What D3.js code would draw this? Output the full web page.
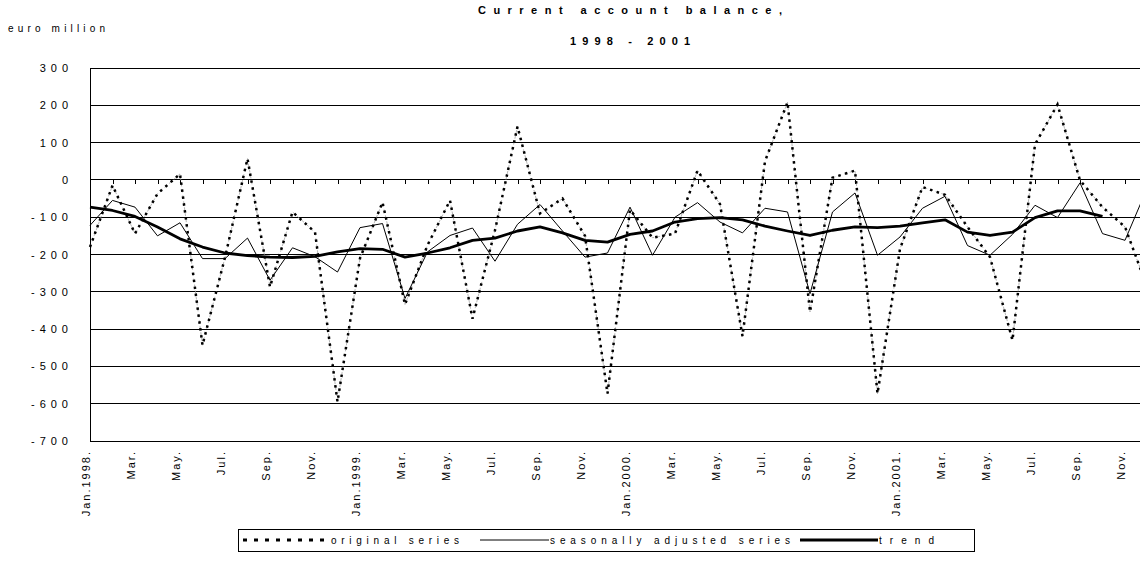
<!DOCTYPE html>
<html>
<head>
<meta charset="utf-8">
<script src="https://cdn.jsdelivr.net/npm/d3@7/dist/d3.min.js"></script>
<style>
  body { margin: 0; background: #fff; }
  svg { display: block; font-family: "Liberation Sans", Arial, sans-serif; }
</style>
</head>
<body>
<svg id="chart" width="1140" height="567"></svg>
<script>
// months Jan 1998 .. Dec 2001
const categories = [
  '1998-01','1998-02','1998-03','1998-04','1998-05','1998-06','1998-07','1998-08','1998-09','1998-10','1998-11','1998-12',
  '1999-01','1999-02','1999-03','1999-04','1999-05','1999-06','1999-07','1999-08','1999-09','1999-10','1999-11','1999-12',
  '2000-01','2000-02','2000-03','2000-04','2000-05','2000-06','2000-07','2000-08','2000-09','2000-10','2000-11','2000-12',
  '2001-01','2001-02','2001-03','2001-04','2001-05','2001-06','2001-07','2001-08','2001-09','2001-10','2001-11','2001-12'
];

// one label every second month
const tickLabels = [
  'Jan.1998.','Mar.','May.','Jul.','Sep.','Nov.',
  'Jan.1999.','Mar.','May.','Jul.','Sep.','Nov.',
  'Jan.2000.','Mar.','May.','Jul.','Sep.','Nov.',
  'Jan.2001.','Mar.','May.','Jul.','Sep.','Nov.'
];

const original = [
  -180, -15, -144, -37, 16, -443, -208, 57, -287, -86, -140, -595,
  -210, -60, -334, -175, -55, -372, -135, 143, -90, -50, -150, -573,
  -80, -155, -144, 25, -65, -419, 50, 208, -354, 6, 25, -573,
  -185, -19, -40, -126, -207, -430, 95, 202, -1, -73, -126, -290
];

const seasonal = [
  -122, -55, -73, -150, -115, -211, -211, -156, -269, -182, -206, -247,
  -128, -117, -318, -193, -149, -129, -218, -119, -66, -137, -207, -196,
  -73, -202, -100, -61, -113, -142, -76, -86, -305, -86, -35, -202,
  -153, -76, -44, -176, -202, -146, -68, -101, -8, -144, -162, -20
];

// trend stops at Oct 2001
const trend = [
  -73, -82, -98, -126, -158, -180, -196, -203, -207, -208, -205, -193,
  -184, -186, -207, -196, -182, -162, -156, -137, -126, -142, -162, -167,
  -146, -137, -113, -104, -101, -107, -124, -137, -149, -135, -126, -128,
  -124, -115, -107, -140, -149, -140, -101, -83, -83, -98
];

const yTicks = [300, 200, 100, 0, -100, -200, -300, -400, -500, -600, -700];

const svg = d3.select('#chart');

const plotLeft = 90, plotRight = 1147.5, plotTop = 68, plotBottom = 441;

const x = d3.scalePoint().domain(categories).range([plotLeft, plotRight]);
const y = d3.scaleLinear().domain([-700, 300]).range([plotBottom, plotTop]);

// gridlines
svg.append('g')
  .selectAll('line')
  .data(yTicks)
  .enter()
  .append('line')
  .attr('x1', plotLeft)
  .attr('x2', plotRight)
  .attr('y1', (d) => y(d))
  .attr('y2', (d) => y(d))
  .attr('stroke', '#000')
  .attr('stroke-width', 1)
  .attr('shape-rendering', 'crispEdges');

// left axis line
svg.append('line')
  .attr('x1', plotLeft).attr('x2', plotLeft)
  .attr('y1', plotTop).attr('y2', plotBottom)
  .attr('stroke', '#000')
  .attr('shape-rendering', 'crispEdges');

// y tick labels (spread out like the original)
svg.append('g')
  .selectAll('text')
  .data(yTicks)
  .enter()
  .append('text')
  .attr('x', 73)
  .attr('y', (d) => y(d) + 4)
  .attr('text-anchor', 'end')
  .attr('font-size', 11)
  .attr('letter-spacing', 5)
  .text((d) => (d < 0 ? '-' + Math.abs(d) : String(d)));

// category axis crossing at zero
const xAxis = d3.axisBottom(x).tickSize(4).tickFormat('');
const xg = svg.append('g')
  .attr('transform', `translate(0,${y(0)})`)
  .call(xAxis);
xg.select('.domain').remove();
xg.selectAll('.tick line').attr('stroke', '#000').attr('shape-rendering', 'crispEdges');
svg.append('line')
  .attr('x1', plotLeft).attr('x2', plotRight)
  .attr('y1', y(0)).attr('y2', y(0))
  .attr('stroke', '#000')
  .attr('shape-rendering', 'crispEdges');

// month labels, rotated, hanging from the bottom of the plot
svg.append('g')
  .selectAll('text')
  .data(tickLabels)
  .enter()
  .append('text')
  .attr('transform', (d, i) => `translate(${x(categories[i * 2])},450) rotate(-90)`)
  .attr('text-anchor', 'end')
  .attr('font-size', 11)
  .attr('letter-spacing', 2)
  .text((d) => d);

// lines
const line = (arr) =>
  d3.line()
    .x((d, i) => x(categories[i]))
    .y((d) => y(d))(arr);

svg.append('path')
  .attr('d', line(original))
  .attr('fill', 'none')
  .attr('stroke', '#9a9a9a')
  .attr('stroke-width', 0.7)
  .attr('stroke-dasharray', '3,3');

svg.append('path')
  .attr('d', line(original))
  .attr('fill', 'none')
  .attr('stroke', '#000')
  .attr('stroke-width', 2.5)
  .attr('stroke-dasharray', '2.5,4.5');

svg.append('path')
  .attr('d', line(seasonal))
  .attr('fill', 'none')
  .attr('stroke', '#000')
  .attr('stroke-width', 1);

svg.append('path')
  .attr('d', line(trend))
  .attr('fill', 'none')
  .attr('stroke', '#000')
  .attr('stroke-width', 2.8)
  .attr('stroke-linejoin', 'round');

// titles
svg.append('text')
  .attr('x', 8).attr('y', 32)
  .attr('font-size', 10)
  .attr('textLength', 97)
  .attr('lengthAdjust', 'spacing')
  .text('euro million');

svg.append('text')
  .attr('x', 478).attr('y', 14)
  .attr('font-size', 11)
  .attr('font-weight', 'bold')
  .attr('textLength', 304)
  .attr('lengthAdjust', 'spacing')
  .text('Current account balance,');

svg.append('text')
  .attr('x', 570).attr('y', 45)
  .attr('font-size', 11)
  .attr('font-weight', 'bold')
  .attr('textLength', 120)
  .attr('lengthAdjust', 'spacing')
  .text('1998 - 2001');

// legend
const legend = svg.append('g');
legend.append('rect')
  .attr('x', 238).attr('y', 529)
  .attr('width', 736).attr('height', 22)
  .attr('fill', '#fff')
  .attr('stroke', '#000')
  .attr('shape-rendering', 'crispEdges');

const keyY = 540;
legend.append('line')
  .attr('x1', 243).attr('x2', 326).attr('y1', keyY).attr('y2', keyY)
  .attr('stroke', '#000').attr('stroke-width', 3).attr('stroke-dasharray', '4,7');
legend.append('text')
  .attr('x', 331).attr('y', keyY + 4)
  .attr('font-size', 10)
  .attr('textLength', 128).attr('lengthAdjust', 'spacing')
  .text('original series');

legend.append('line')
  .attr('x1', 480).attr('x2', 549).attr('y1', keyY).attr('y2', keyY)
  .attr('stroke', '#000').attr('stroke-width', 1);
legend.append('text')
  .attr('x', 550).attr('y', keyY + 4)
  .attr('font-size', 10)
  .attr('textLength', 240).attr('lengthAdjust', 'spacing')
  .text('seasonally adjusted series');

legend.append('line')
  .attr('x1', 800).attr('x2', 878).attr('y1', keyY).attr('y2', keyY)
  .attr('stroke', '#000').attr('stroke-width', 2.8);
legend.append('text')
  .attr('x', 879).attr('y', keyY + 4)
  .attr('font-size', 10)
  .attr('textLength', 55).attr('lengthAdjust', 'spacing')
  .text('trend');
</script>
</body>
</html>
